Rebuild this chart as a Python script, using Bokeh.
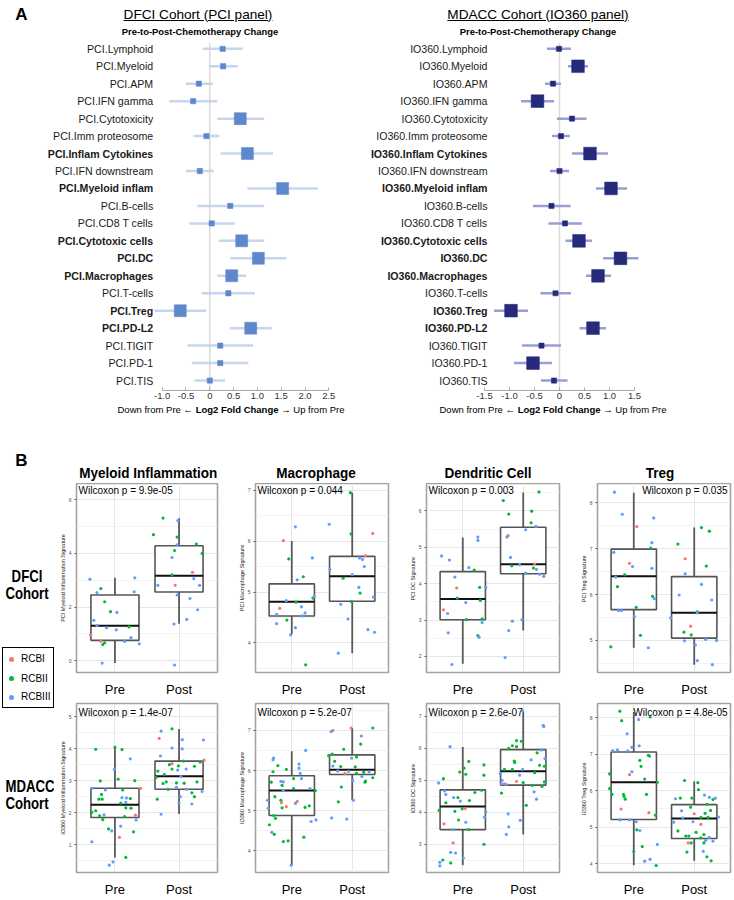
from bokeh.plotting import figure
from bokeh.models import Range1d, FixedTicker, Span, Div, ColumnDataSource
from bokeh.layouts import row, column
from bokeh.core.properties import value, field
from bokeh.embed import file_html
from bokeh.resources import INLINE

FONT = "Liberation Sans"

# ---------------- Panel A data ----------------
PCI_LABELS = ["PCI.Lymphoid", "PCI.Myeloid", "PCI.APM", "PCI.IFN gamma", "PCI.Cytotoxicity",
              "PCI.Imm proteosome", "PCI.Inflam Cytokines", "PCI.IFN downstream", "PCI.Myeloid inflam",
              "PCI.B-cells", "PCI.CD8 T cells", "PCI.Cytotoxic cells", "PCI.DC", "PCI.Macrophages",
              "PCI.T-cells", "PCI.Treg", "PCI.PD-L2", "PCI.TIGIT", "PCI.PD-1", "PCI.TIS"]
PCI_EST = [0.27, 0.28, -0.23, -0.35, 0.64, -0.07, 0.79, -0.21, 1.53, 0.43, 0.04, 0.67, 1.02, 0.46,
           0.39, -0.62, 0.86, 0.22, 0.22, 0.00]
PCI_LO = [-0.15, -0.02, -0.50, -0.85, 0.16, -0.34, 0.23, -0.50, 0.79, -0.26, -0.43, 0.19, 0.43, 0.16,
          -0.17, -1.16, 0.42, -0.47, -0.38, -0.32]
PCI_HI = [0.69, 0.59, 0.06, 0.16, 1.14, 0.20, 1.33, 0.08, 2.27, 1.14, 0.53, 1.14, 1.61, 0.76,
          0.95, -0.08, 1.30, 0.91, 0.81, 0.32]
PCI_NOMINAL = [0, 0, 0, 0, 1, 0, 1, 0, 1, 0, 0, 1, 1, 1, 0, 1, 1, 0, 0, 0]
PCI_FDR = [0, 0, 0, 0, 0, 0, 1, 0, 1, 0, 0, 1, 1, 1, 0, 1, 1, 0, 0, 0]
PCI_TICKS = [-1.0, -0.5, 0.0, 0.5, 1.0, 1.5, 2.0, 2.5]
PCI_TICK_LABELS = ["-1.0", "-0.5", "0", "0.5", "1.0", "1.5", "2.0", "2.5"]

IO_LABELS = ["IO360.Lymphoid", "IO360.Myeloid", "IO360.APM", "IO360.IFN gamma", "IO360.Cytotoxicity",
             "IO360.Imm proteosome", "IO360.Inflam Cytokines", "IO360.IFN downstream", "IO360.Myeloid inflam",
             "IO360.B-cells", "IO360.CD8 T cells", "IO360.Cytotoxic cells", "IO360.DC", "IO360.Macrophages",
             "IO360.T-cells", "IO360.Treg", "IO360.PD-L2", "IO360.TIGIT", "IO360.PD-1", "IO360.TIS"]
IO_EST = [-0.01, 0.37, -0.13, -0.44, 0.25, 0.03, 0.61, 0.00, 1.03, -0.16, 0.11, 0.39, 1.22, 0.77,
          -0.08, -0.97, 0.67, -0.36, -0.53, -0.11]
IO_LO = [-0.25, 0.17, -0.29, -0.77, -0.05, -0.15, 0.25, -0.19, 0.73, -0.53, -0.22, 0.12, 0.87, 0.53,
         -0.38, -1.31, 0.40, -0.75, -0.91, -0.37]
IO_HI = [0.23, 0.57, 0.03, -0.11, 0.54, 0.21, 0.97, 0.19, 1.35, 0.22, 0.45, 0.65, 1.58, 1.03,
         0.23, -0.63, 0.93, 0.03, -0.15, 0.16]
IO_NOMINAL = [0, 1, 0, 1, 0, 0, 1, 0, 1, 0, 0, 1, 1, 1, 0, 1, 1, 0, 1, 0]
IO_FDR = [0, 0, 0, 0, 0, 0, 1, 0, 1, 0, 0, 1, 1, 1, 0, 1, 1, 0, 0, 0]
IO_TICKS = [-1.5, -1.0, -0.5, 0.0, 0.5, 1.0, 1.5]
IO_TICK_LABELS = ["-1.5", "-1.0", "-0.5", "0", "0.5", "1.0", "1.5"]

# ---------------- Panel B data: (signature value, horizontal jitter, RCB class) ----------------
DFCI_MI_PRE = [(3.04, -0.39, 3), (2.54, -0.28, 3), (2.69, -0.22, 2), (2.20, -0.16, 2), (1.83, -0.07, 2),
               (1.80, 0.03, 3), (1.51, -0.33, 3), (1.31, -0.28, 3), (1.23, -0.13, 3), (1.15, 0.02, 3),
               (1.26, 0.22, 2), (3.09, 0.31, 3), (2.57, 0.30, 3), (0.86, 0.25, 3), (0.72, 0.15, 3),
               (0.63, 0.38, 3), (0.96, -0.38, 1), (0.73, -0.22, 1), (0.60, -0.19, 2), (0.67, -0.16, 2),
               (-0.09, -0.20, 3)]
DFCI_MI_POST = [(5.32, -0.25, 2), (5.23, -0.02, 3), (4.70, -0.40, 2), (4.61, -0.03, 2), (4.32, -0.03, 3),
                (4.35, 0.27, 2), (4.00, 0.36, 2), (4.11, -0.07, 2), (3.85, -0.11, 3), (3.20, -0.11, 2),
                (3.30, 0.21, 1), (2.81, -0.33, 3), (2.81, -0.06, 1), (3.06, 0.23, 3), (2.81, 0.32, 3),
                (2.45, -0.03, 3), (2.32, 0.17, 3), (1.90, 0.29, 3), (1.54, 0.12, 3), (1.37, -0.08, 3),
                (-0.16, -0.07, 3)]
DFCI_MAC_PRE = [(6.01, -0.14, 1), (6.28, 0.06, 3), (5.65, -0.05, 2), (5.67, 0.34, 3), (5.30, 0.19, 2),
                (5.24, 0.09, 3), (4.68, -0.20, 1), (4.83, -0.09, 3), (4.80, 0.07, 2), (4.71, 0.16, 3),
                (4.59, 0.22, 3), (4.53, 0.17, 3), (4.88, 0.35, 2), (4.91, 0.37, 3), (4.56, -0.25, 3),
                (4.45, -0.08, 2), (4.38, -0.25, 3), (4.30, 0.06, 3), (4.16, -0.02, 3), (3.57, 0.23, 2)]
DFCI_MAC_POST = [(6.95, -0.03, 2), (6.33, -0.38, 3), (6.14, -0.02, 2), (5.44, -0.37, 3), (5.27, -0.15, 2),
                 (5.34, 0.00, 3), (5.67, 0.12, 3), (5.64, 0.17, 3), (5.71, 0.22, 1), (5.50, 0.20, 3),
                 (5.09, 0.11, 3), (4.98, 0.13, 2), (6.15, 0.34, 1), (4.76, -0.19, 3), (4.47, -0.07, 3),
                 (4.26, 0.26, 3), (3.80, -0.23, 3), (4.81, -0.01, 2), (4.90, 0.35, 3), (4.21, 0.37, 3)]
DFCI_DC_PRE = [(4.76, -0.35, 3), (4.65, -0.22, 3), (5.28, 0.25, 3), (5.19, 0.25, 3), (4.18, -0.13, 3),
               (4.44, 0.10, 3), (4.37, 0.19, 2), (3.88, -0.10, 1), (3.90, 0.28, 2), (3.90, 0.38, 3),
               (3.60, -0.09, 2), (3.48, 0.05, 3), (3.54, 0.29, 2), (3.28, -0.32, 1), (3.18, -0.25, 3),
               (3.01, 0.06, 2), (3.03, 0.32, 2), (2.93, 0.32, 3), (2.65, -0.24, 3), (2.57, 0.25, 2),
               (2.53, 0.27, 3), (1.78, -0.18, 3)]
DFCI_DC_POST = [(6.28, -0.33, 2), (5.91, -0.24, 2), (5.99, 0.14, 2), (6.52, 0.26, 2), (5.67, 0.13, 2),
                (5.57, 0.21, 3), (5.48, 0.04, 3), (5.32, -0.25, 1), (5.28, -0.27, 3), (4.72, -0.21, 3),
                (4.49, -0.19, 2), (4.52, -0.06, 3), (4.54, 0.19, 1), (4.43, 0.17, 2), (4.39, 0.22, 3),
                (4.29, 0.04, 3), (4.26, 0.27, 3), (4.20, 0.34, 3), (2.97, -0.18, 3), (3.01, -0.02, 3),
                (2.71, -0.24, 3), (1.97, -0.30, 3)]
DFCI_TREG_PRE = [(8.23, -0.32, 3), (7.75, -0.19, 3), (7.67, 0.33, 3), (7.48, 0.05, 1), (7.13, 0.30, 3),
                 (7.01, 0.28, 2), (6.92, -0.33, 3), (6.68, -0.07, 1), (6.61, -0.02, 3), (6.57, 0.30, 3),
                 (6.43, -0.15, 2), (6.38, -0.30, 3), (6.17, -0.27, 2), (5.96, 0.31, 2), (5.91, 0.34, 3),
                 (5.72, 0.04, 2), (5.65, -0.25, 3), (5.65, -0.20, 3), (5.52, 0.01, 3), (5.11, 0.11, 2),
                 (4.86, -0.38, 2), (4.84, 0.24, 3)]
DFCI_TREG_POST = [(7.10, -0.27, 2), (7.46, 0.12, 2), (7.38, 0.25, 2), (6.78, -0.15, 1), (6.62, 0.20, 2),
                  (6.45, -0.15, 3), (6.22, 0.12, 3), (5.88, 0.29, 3), (5.99, -0.25, 3), (5.49, -0.39, 3),
                  (5.62, 0.05, 2), (5.60, 0.05, 3), (5.31, -0.06, 1), (5.18, -0.17, 2), (5.12, -0.05, 2),
                  (4.99, -0.16, 3), (5.02, 0.19, 3), (5.00, 0.37, 3), (4.90, 0.02, 3), (4.56, 0.05, 3),
                  (4.47, 0.30, 3)]
MDACC_MI_PRE = [(3.99, -0.30, 2), (4.06, 0.00, 2), (3.98, 0.11, 2), (3.69, 0.24, 3), (3.36, -0.01, 3),
                (3.00, -0.23, 2), (3.06, 0.05, 2), (3.01, 0.31, 2), (2.77, 0.40, 1), (2.77, -0.36, 3),
                (2.58, -0.21, 2), (2.72, -0.15, 3), (2.72, 0.12, 2), (2.43, -0.25, 2), (2.43, -0.20, 2),
                (2.48, 0.11, 3), (2.47, 0.18, 3), (2.45, 0.24, 2), (2.33, 0.17, 3), (2.31, 0.09, 2),
                (2.16, 0.17, 2), (2.15, 0.25, 2), (1.94, -0.17, 3), (2.07, -0.30, 2), (2.02, -0.36, 2),
                (1.91, -0.24, 2), (1.79, -0.19, 2), (1.89, 0.15, 2), (1.93, 0.32, 1), (1.78, 0.33, 3),
                (1.50, -0.10, 2), (1.59, 0.09, 3), (1.44, -0.05, 3), (1.41, 0.29, 2), (1.10, -0.36, 3),
                (1.24, 0.07, 1), (0.61, 0.17, 2), (0.47, -0.03, 3), (0.37, -0.09, 3)]
MDACC_MI_POST = [(4.63, -0.11, 2), (4.56, -0.28, 3), (4.33, -0.31, 1), (4.29, 0.05, 3), (4.28, 0.38, 3),
                 (4.03, -0.11, 3), (4.00, 0.05, 3), (3.78, -0.29, 3), (3.65, 0.39, 1), (3.59, 0.33, 2),
                 (3.54, -0.11, 1), (3.51, -0.15, 2), (3.62, 0.07, 2), (3.47, -0.01, 2), (3.46, 0.24, 2),
                 (3.34, -0.02, 3), (3.37, 0.11, 3), (3.37, -0.11, 2), (3.31, -0.33, 2), (3.20, -0.23, 2),
                 (3.11, -0.36, 2), (3.14, 0.03, 3), (2.97, -0.20, 2), (2.92, -0.25, 2), (2.94, -0.04, 2),
                 (2.93, 0.08, 2), (2.97, 0.28, 2), (2.80, -0.04, 3), (2.74, -0.17, 2), (2.74, 0.12, 3),
                 (2.67, 0.36, 3), (2.63, 0.20, 2), (2.51, 0.24, 2), (2.43, -0.34, 2), (2.51, 0.02, 3),
                 (2.31, 0.00, 3), (2.28, 0.20, 3), (1.96, -0.28, 3)]
MDACC_MAC_PRE = [(6.50, 0.23, 3), (6.31, -0.30, 3), (6.27, -0.31, 3), (6.16, 0.12, 3), (6.12, -0.23, 2),
                 (6.06, 0.12, 3), (5.97, -0.31, 2), (6.03, -0.09, 2), (5.93, 0.14, 3), (5.80, 0.03, 2),
                 (5.80, 0.16, 3), (5.73, -0.18, 3), (5.72, -0.14, 3), (5.71, -0.34, 2), (5.63, -0.16, 2),
                 (5.55, 0.03, 2), (5.55, 0.30, 3), (5.50, 0.39, 2), (5.50, -0.14, 3), (5.26, -0.40, 3),
                 (5.26, -0.18, 2), (5.35, -0.28, 2), (5.20, -0.17, 1), (5.23, 0.09, 1), (5.18, 0.06, 3),
                 (5.07, -0.16, 2), (5.10, -0.09, 1), (5.08, 0.22, 2), (5.12, 0.29, 2), (5.06, -0.39, 3),
                 (4.88, -0.30, 2), (4.81, -0.27, 2), (4.77, 0.40, 3), (4.73, 0.32, 3), (4.65, -0.37, 2),
                 (4.46, -0.33, 3), (4.41, -0.29, 2), (4.23, -0.14, 2), (4.25, -0.06, 2), (4.34, 0.20, 2),
                 (3.64, -0.01, 3)]
MDACC_MAC_POST = [(7.00, -0.32, 1), (6.97, -0.35, 3), (7.06, -0.02, 1), (6.86, 0.15, 3), (6.66, 0.14, 2),
                  (6.53, -0.14, 2), (6.37, -0.39, 2), (6.41, -0.33, 2), (6.34, 0.07, 2), (6.23, -0.29, 2),
                  (6.31, -0.01, 3), (6.11, -0.32, 3), (6.10, -0.19, 2), (6.09, 0.05, 2), (5.99, -0.24, 3),
                  (5.93, -0.12, 1), (5.98, -0.06, 3), (5.96, 0.19, 2), (5.97, 0.28, 3), (5.93, 0.07, 2),
                  (5.85, 0.16, 3), (5.74, 0.22, 2), (5.71, 0.21, 2), (5.75, 0.01, 3), (5.59, -0.18, 2),
                  (5.22, -0.23, 2), (5.26, 0.02, 3), (4.82, -0.34, 3), (4.79, -0.09, 3), (7.06, 0.34, 2),
                  (5.82, 0.34, 2)]
MDACC_DC_PRE = [(6.05, -0.21, 3), (5.59, 0.10, 2), (5.38, 0.02, 2), (5.26, -0.05, 2), (5.19, 0.05, 2),
                (5.48, 0.35, 2), (5.16, 0.35, 2), (5.05, -0.32, 2), (4.92, -0.40, 3), (4.67, -0.30, 3),
                (4.56, -0.28, 3), (4.69, 0.31, 2), (4.62, 0.20, 2), (4.46, -0.15, 3), (4.46, -0.08, 2),
                (4.35, -0.04, 3), (4.37, 0.11, 2), (4.30, -0.28, 2), (4.06, -0.39, 2), (4.11, -0.01, 2),
                (4.12, 0.04, 1), (4.03, -0.13, 2), (4.01, 0.38, 3), (3.85, 0.36, 3), (3.76, -0.07, 2),
                (3.69, 0.05, 3), (3.64, -0.31, 1), (3.46, -0.16, 3), (3.46, 0.10, 2), (3.00, 0.35, 2),
                (3.05, -0.16, 1), (2.75, -0.20, 3), (2.73, -0.12, 3), (2.57, 0.01, 3), (2.51, -0.33, 2),
                (2.42, -0.20, 2), (2.44, -0.38, 3), (2.33, -0.38, 3)]
MDACC_DC_POST = [(7.17, -0.01, 3), (6.68, 0.34, 3), (6.72, 0.33, 3), (6.24, -0.11, 2), (6.22, -0.03, 2),
                 (6.08, -0.18, 2), (6.05, -0.11, 2), (6.00, -0.24, 2), (5.95, 0.30, 3), (5.86, 0.23, 2),
                 (5.68, 0.36, 3), (5.64, 0.13, 3), (5.60, -0.15, 2), (5.56, -0.14, 2), (5.47, 0.27, 2),
                 (5.44, 0.35, 2), (5.34, -0.31, 2), (5.34, -0.18, 2), (5.34, -0.01, 3), (5.21, -0.38, 3),
                 (5.24, 0.19, 2), (5.16, -0.06, 3), (5.00, -0.35, 3), (4.97, -0.11, 1), (4.95, 0.35, 2),
                 (4.93, 0.00, 2), (4.89, -0.31, 1), (4.89, -0.36, 3), (4.87, -0.28, 3), (4.84, 0.15, 2),
                 (4.81, 0.31, 2), (4.64, 0.18, 3), (4.60, -0.36, 2), (4.41, 0.22, 3), (4.22, 0.05, 2),
                 (3.95, -0.25, 3), (3.75, -0.05, 3), (3.55, -0.24, 3), (3.31, -0.28, 3)]
MDACC_TREG_PRE = [(8.18, -0.23, 2), (7.92, -0.20, 2), (7.95, 0.08, 3), (8.02, 0.27, 2), (7.56, -0.11, 3),
                  (7.23, 0.09, 3), (7.19, -0.03, 3), (7.10, -0.35, 3), (7.12, -0.27, 3), (7.09, -0.10, 3),
                  (6.83, 0.10, 2), (6.97, 0.24, 2), (6.95, 0.26, 2), (6.67, 0.12, 2), (6.52, -0.03, 3),
                  (6.46, -0.40, 2), (6.44, -0.07, 1), (6.32, 0.18, 2), (6.06, -0.40, 2), (6.23, 0.39, 2),
                  (5.90, -0.17, 2), (5.90, -0.36, 2), (5.84, -0.16, 2), (5.77, -0.14, 2), (5.90, 0.21, 2),
                  (5.50, -0.21, 1), (5.40, 0.25, 1), (5.33, 0.36, 2), (5.20, -0.23, 3), (5.20, -0.07, 3),
                  (5.15, 0.04, 3), (4.93, 0.05, 2), (4.91, 0.10, 3), (4.53, 0.39, 3), (4.47, 0.14, 2),
                  (4.34, 0.00, 2), (4.12, 0.27, 3), (4.07, 0.18, 3), (3.95, 0.37, 2)]
MDACC_TREG_POST = [(6.28, -0.16, 2), (6.22, 0.06, 2), (6.03, 0.07, 2), (5.78, -0.31, 3), (5.80, -0.23, 2),
                   (5.80, -0.04, 2), (5.88, 0.17, 3), (5.82, 0.25, 3), (5.80, 0.35, 3), (5.76, 0.31, 2),
                   (5.63, 0.21, 2), (5.55, -0.06, 2), (5.45, -0.21, 3), (5.46, 0.27, 2), (5.37, 0.00, 1),
                   (5.38, 0.18, 2), (5.28, 0.40, 3), (5.26, -0.19, 3), (5.27, 0.11, 2), (5.27, 0.23, 2),
                   (5.15, -0.02, 3), (5.14, -0.34, 3), (5.08, 0.11, 1), (4.90, -0.27, 2), (4.86, 0.03, 2),
                   (4.80, 0.16, 2), (4.76, -0.14, 2), (4.76, -0.09, 2), (4.71, 0.11, 2), (4.72, 0.25, 3),
                   (4.62, 0.31, 3), (4.57, -0.10, 1), (4.57, -0.05, 2), (4.64, 0.19, 3), (4.57, 0.16, 2),
                   (4.32, -0.12, 2), (4.34, 0.15, 3), (4.19, 0.21, 2), (4.08, 0.28, 2)]

# box statistics [lower whisker, Q1, median, Q3, upper whisker] for Pre and Post
DFCI_MI_BOX = [[-0.09, 0.76, 1.30, 2.45, 3.09], [1.38, 2.56, 3.17, 4.29, 5.31]]
DFCI_MAC_BOX = [[4.17, 4.53, 4.81, 5.16, 6.00], [3.80, 4.82, 5.31, 5.70, 6.95]]
DFCI_DC_BOX = [[1.80, 3.01, 3.58, 4.33, 5.27], [2.71, 4.27, 4.53, 5.55, 6.50]]
DFCI_TREG_BOX = [[4.84, 5.67, 6.40, 6.99, 8.22], [4.47, 5.05, 5.60, 6.39, 7.46]]
MDACC_MI_BOX = [[0.61, 1.86, 2.26, 2.77, 4.06], [1.97, 2.74, 3.15, 3.62, 4.62]]
MDACC_MAC_BOX = [[3.64, 4.88, 5.50, 5.87, 6.48], [5.26, 5.90, 6.02, 6.39, 7.06]]
MDACC_DC_BOX = [[2.35, 3.46, 4.18, 4.70, 6.04], [3.31, 4.85, 5.28, 5.96, 7.17]]
MDACC_TREG_BOX = [[3.96, 5.21, 6.23, 7.06, 8.16], [4.08, 4.69, 5.24, 5.62, 6.26]]

# y limits and major breaks
DFCI_LIMITS = [(-0.44, 6.61), (3.42, 7.13), (1.56, 6.75), (4.30, 8.42)]
DFCI_BREAKS = [[0, 2, 4, 6], [4, 5, 6, 7], [2, 3, 4, 5, 6], [5, 6, 7, 8]]
MDACC_LIMITS = [(0.14, 5.42), (3.46, 7.67), (2.12, 7.40), (3.76, 8.39)]
MDACC_BREAKS = [[1, 2, 3, 4, 5], [4, 5, 6, 7], [3, 4, 5, 6, 7], [4, 5, 6, 7, 8]]

COLUMN_TITLES = ["Myeloid Inflammation", "Macrophage", "Dendritic Cell", "Treg"]
DFCI_YLABELS = ["PCI Myeloid Inflammation Signature", "PCI Macrophage Signature",
                "PCI DC  Signature", "PCI Treg  Signature"]
MDACC_YLABELS = ["IO360 Myeloid Inflammation Signature", "IO360 Macrophage Signature",
                 "IO360 DC  Signature", "IO360 Treg  Signature"]
DFCI_PVALS = ["Wilcoxon p = 9.9e-05", "Wilcoxon p = 0.044", "Wilcoxon p = 0.003", "Wilcoxon p = 0.035"]
MDACC_PVALS = ["Wilcoxon p = 1.4e-07", "Wilcoxon p = 5.2e-07", "Wilcoxon p = 2.6e-07", "Wilcoxon p = 4.8e-05"]
GROUPS = ["Pre", "Post"]
RCB_NAMES = ["RCBI", "RCBII", "RCBIII"]
RCB_COLORS = {1: "#F8766D", 2: "#00BA38", 3: "#619CFF"}


# ---------------- helpers ----------------
def txt(s, x, y, size, bold=False, anchor="middle", bw=200, extra=""):
    if anchor == "middle":
        left = x - bw / 2.0
        align = "center"
    else:
        left = x
        align = "left"
    return ('<div style="position:absolute;left:%spx;top:%spx;width:%spx;height:%spx;'
            'line-height:%spx;text-align:%s;white-space:nowrap;overflow:visible;'
            'font-family:\'Liberation Sans\',Arial,sans-serif;font-size:%spx;'
            'font-weight:%s;color:#000;%s">%s</div>'
            % (left, y - size / 2.0, bw, size, size, align, size, "bold" if bold else "normal", extra, s))


def make_div(items, w, h):
    html = ('<div style="position:relative;width:%dpx;height:%dpx;overflow:hidden;">%s</div>'
            % (w, h, "".join(items)))
    return Div(text=html, width=w, height=h, margin=0, styles={"overflow": "hidden"})


def forest(labels, est, lo, hi, nominal, fdr, ticks, tick_labels, xr, sq_color, ci_color,
           small, large, label_off):
    n = len(labels)
    src = ColumnDataSource(dict(
        row=list(range(1, n + 1)), est=est, lo=lo, hi=hi,
        size=[large if s else small for s in nominal],
        lab=labels, fstyle=["bold" if f else "normal" for f in fdr],
        lx=[ticks[0]] * n))
    p = figure(title=None, frame_width=367, frame_height=348, x_range=Range1d(*xr),
               y_range=Range1d(20.57, 0.64), y_axis_type=None, output_backend="svg",
               toolbar_location=None, min_border_left=0, min_border_right=0,
               min_border_top=0, min_border_bottom=14)
    p.outline_line_color = None
    p.xgrid.visible = False
    zero = Span(location=0, dimension="height", line_color="#dadada", line_width=1.5, level="underlay")
    p.add_layout(zero)
    p.segment(x0="lo", y0="row", x1="hi", y1="row", source=src, line_color=ci_color, line_width=2.5)
    p.scatter(x="est", y="row", size="size", marker="square", source=src,
              fill_color=sq_color, line_color=sq_color, line_width=0.5)
    p.text(x="lx", y="row", text="lab", source=src, x_offset=label_off, text_align="right",
           text_baseline="middle", text_font=value(FONT), text_font_size="10.6px",
           text_font_style=field("fstyle"), text_color="#1a1a1a")
    ax = p.xaxis[0]
    ax.ticker = FixedTicker(ticks=ticks, minor_ticks=[])
    ax.bounds = (ticks[0], ticks[-1])
    ax.major_label_overrides = {t: l for t, l in zip(ticks, tick_labels)}
    ax.axis_line_color = "#a8a8a8"
    ax.axis_line_width = 1.2
    ax.major_tick_line_color = "#a8a8a8"
    ax.major_tick_in = 3
    ax.major_tick_out = 0
    ax.minor_tick_line_color = None
    ax.major_label_standoff = 2
    ax.major_label_text_font = FONT
    ax.major_label_text_font_size = "9.5px"
    ax.major_label_text_color = "#333333"
    return p


def boxfig(pre, post, box, lim, breaks, ylab, ptext, right_text, width, height, top, bottom, left,
           right, text_dy):
    p = figure(title=None, width=width, height=height, x_range=Range1d(0.4, 2.6),
               y_range=Range1d(*lim), output_backend="svg", toolbar_location=None,
               min_border_left=left, min_border_right=right, min_border_top=top,
               min_border_bottom=bottom)
    p.outline_line_color = "#a3a3a3"
    p.outline_line_width = 1.6
    step = breaks[1] - breaks[0]
    minors = [b + step / 2.0 for b in [breaks[0] - step] + breaks]
    yt = FixedTicker(ticks=breaks, minor_ticks=minors)
    p.yaxis.ticker = yt
    p.ygrid.ticker = yt
    xt = FixedTicker(ticks=[1, 2], minor_ticks=[])
    p.xaxis.ticker = xt
    p.xgrid.ticker = xt
    p.xaxis.major_label_overrides = {i + 1: g for i, g in enumerate(GROUPS)}
    p.ygrid.grid_line_color = "#e6e6e6"
    p.ygrid.minor_grid_line_color = "#f3f3f3"
    p.xgrid.grid_line_color = "#e6e6e6"

    xa = p.xaxis[0]
    xa.axis_line_color = None
    xa.major_tick_line_color = None
    xa.minor_tick_line_color = None
    xa.major_label_standoff = 3
    xa.major_label_text_font = FONT
    xa.major_label_text_font_size = "13px"
    xa.major_label_text_color = "#000000"

    ya = p.yaxis[0]
    ya.axis_line_color = None
    ya.minor_tick_line_color = None
    ya.major_tick_line_color = "#555555"
    ya.major_tick_out = 2
    ya.major_tick_in = 0
    ya.major_label_standoff = 1
    ya.major_label_text_font = FONT
    ya.major_label_text_font_size = "5px"
    ya.major_label_text_color = "#4d4d4d"
    ya.axis_label = ylab
    ya.axis_label_standoff = 0
    ya.axis_label_text_font = FONT
    ya.axis_label_text_font_size = "5.5px"
    ya.axis_label_text_font_style = "normal"
    ya.axis_label_text_color = "#222222"

    half = 0.75 / 2
    xs = [1, 2]
    bsrc = ColumnDataSource(dict(
        x=xs, xl=[x - half for x in xs], xr=[x + half for x in xs],
        lo=[b[0] for b in box], q1=[b[1] for b in box], med=[b[2] for b in box],
        q3=[b[3] for b in box], hi=[b[4] for b in box]))
    p.segment(x0="x", y0="lo", x1="x", y1="q1", source=bsrc, line_color="#5a5a5a", line_width=1.8)
    p.segment(x0="x", y0="q3", x1="x", y1="hi", source=bsrc, line_color="#5a5a5a", line_width=1.8)
    p.vbar(x="x", width=0.75, bottom="q1", top="q3", source=bsrc, fill_color="white",
           line_color="#555555", line_width=1.6)
    p.segment(x0="xl", y0="med", x1="xr", y1="med", source=bsrc, line_color="#111111", line_width=2)

    px, py, pc = [], [], []
    for gx, pts in ((1, pre), (2, post)):
        for v, j, r in pts:
            px.append(gx + j)
            py.append(v)
            pc.append(RCB_COLORS[r])
    p.scatter(x=px, y=py, color=pc, size=3.2, line_width=0)

    if right_text:
        p.text(x=[2.6], y=[lim[1]], text=[ptext], x_offset=-3, y_offset=text_dy,
               text_align="right", text_baseline="top", text_font=value(FONT),
               text_font_size="10px", text_color="#000000")
    else:
        p.text(x=[0.4], y=[lim[1]], text=[ptext], x_offset=2, y_offset=text_dy,
               text_align="left", text_baseline="top", text_font=value(FONT),
               text_font_size="10px", text_color="#000000")
    return p


# ---------------- Panel A ----------------
pL = forest(PCI_LABELS, PCI_EST, PCI_LO, PCI_HI, PCI_NOMINAL, PCI_FDR, PCI_TICKS, PCI_TICK_LABELS,
            (-4.397, 3.313), "#5f87cc", "#c7d5ef", 5.3, 12, -9)
pR = forest(IO_LABELS, IO_EST, IO_LO, IO_HI, IO_NOMINAL, IO_FDR, IO_TICKS, IO_TICK_LABELS,
            (-3.84, 3.50), "#252a7b", "#9c9ed2", 5.2, 12.7, 3)

UL = "text-decoration:underline;text-underline-offset:1px;"
COND = "transform:scaleX(%s);transform-origin:50%% 50%%;"
hdrA = make_div([
    txt("A", 21.5, 14, 17, bold=True, bw=30),
    txt("DFCI Cohort (PCI panel)", 198, 14.5, 13.6, bw=220, extra=UL),
    txt("Pre-to-Post-Chemotherapy Change", 200, 31.3, 9.4, bold=True, bw=220),
    txt("MDACC Cohort (IO360 panel)", 538, 14.5, 13.6, bw=220, extra=UL),
    txt("Pre-to-Post-Chemotherapy Change", 538, 31.3, 9.4, bold=True, bw=220),
], 734, 42)

axis_lab = "Down from Pre &larr; <b>Log2 Fold Change</b> &rarr; Up from Pre"
hdrB = make_div([
    txt(axis_lab, 231, 6, 9.5, bw=250),
    txt(axis_lab, 553, 6, 9.5, bw=250),
    txt("B", 21.5, 56, 17, bold=True, bw=30),
] + [txt(t, cx, 68, 15, bold=True, bw=146, extra=COND % 0.9)
     for t, cx in zip(COLUMN_TITLES, [145, 316, 488, 660])],
    734, 79)

# ---------------- Panel B ----------------
dfci_sets = [(DFCI_MI_PRE, DFCI_MI_POST, DFCI_MI_BOX), (DFCI_MAC_PRE, DFCI_MAC_POST, DFCI_MAC_BOX),
             (DFCI_DC_PRE, DFCI_DC_POST, DFCI_DC_BOX), (DFCI_TREG_PRE, DFCI_TREG_POST, DFCI_TREG_BOX)]
mdacc_sets = [(MDACC_MI_PRE, MDACC_MI_POST, MDACC_MI_BOX), (MDACC_MAC_PRE, MDACC_MAC_POST, MDACC_MAC_BOX),
              (MDACC_DC_PRE, MDACC_DC_POST, MDACC_DC_BOX), (MDACC_TREG_PRE, MDACC_TREG_POST, MDACC_TREG_BOX)]

LEFT_W = 54
row1 = []
row2 = []
for i in range(4):
    rb = 3 if i == 3 else 18
    lb = 22 if i == 0 else 12
    w = lb + 141 + rb
    pre, post, box = dfci_sets[i]
    row1.append(boxfig(pre, post, box, DFCI_LIMITS[i], DFCI_BREAKS[i], DFCI_YLABELS[i],
                       DFCI_PVALS[i], i == 3, w, 216, 0, 20, lb, rb, 1.5))
    pre, post, box = mdacc_sets[i]
    row2.append(boxfig(pre, post, box, MDACC_LIMITS[i], MDACC_BREAKS[i], MDACC_YLABELS[i],
                       MDACC_PVALS[i], i == 3, w, 200, 4, 18, lb, rb, 3.5))

legend_items = ['<div style="position:absolute;left:2px;top:164px;width:52px;height:61px;'
                'box-sizing:border-box;border:1.3px solid #000;"></div>']
for k, (name, ly) in enumerate(zip(RCB_NAMES, [176.3, 195.7, 214.3])):
    legend_items.append('<div style="position:absolute;left:8.5px;top:%spx;width:5px;height:5px;'
                        'border-radius:50%%;background:%s;"></div>' % (ly - 2.5, RCB_COLORS[k + 1]))
    legend_items.append(txt(name, 21, ly, 10, anchor="start", bw=32))

leftB = make_div([
    txt("DFCI", 27, 93, 16.5, bold=True, bw=54, extra=COND % 0.8),
    txt("Cohort", 27, 110, 16.5, bold=True, bw=54, extra=COND % 0.8),
    txt("MDACC", 27, 303, 16.5, bold=True, bw=54, extra=COND % 0.8),
    txt("Cohort", 27, 320, 16.5, bold=True, bw=54, extra=COND % 0.8),
] + legend_items, LEFT_W, 416)

layout = column(hdrA, row(pL, pR), hdrB, row(leftB, column(row(*row1), row(*row2))))

open("out.html", "w").write(file_html(layout, INLINE))
